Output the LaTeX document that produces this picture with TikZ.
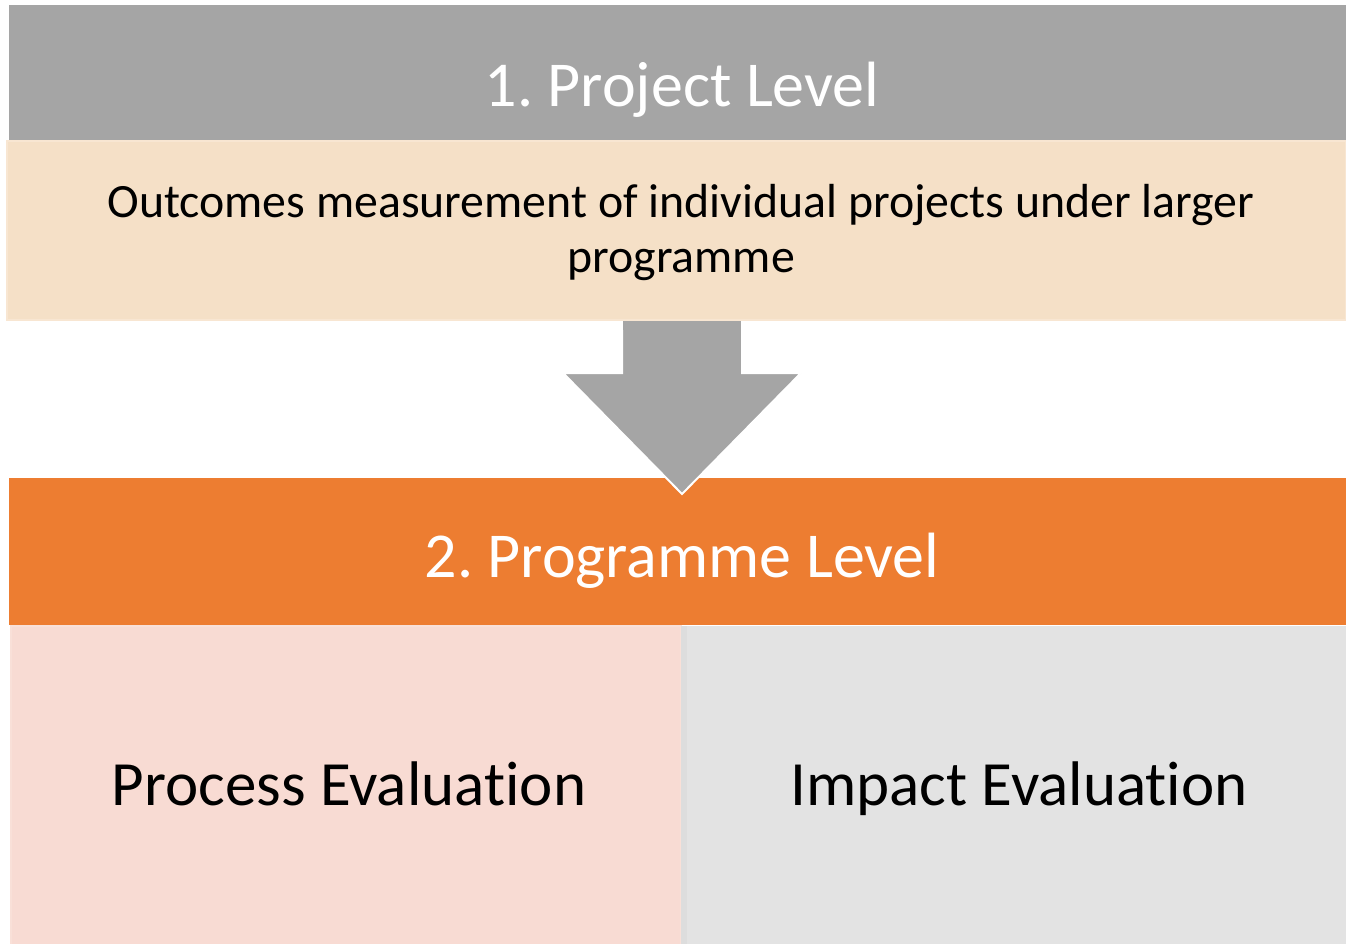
\documentclass[tikz,border=0pt]{standalone}
\usepackage{fontspec}
\setmainfont[Ligatures={NoCommon}]{Carlito}
\frenchspacing
\definecolor{hdgray}{HTML}{A5A5A5}
\definecolor{beige}{HTML}{F5E0C7}
\definecolor{beigeedge}{HTML}{F8E6D2}
\definecolor{orng}{HTML}{ED7D31}
\definecolor{pinkbox}{HTML}{F8DBD3}
\definecolor{pinkedge}{HTML}{F9E0D8}
\definecolor{lgray}{HTML}{E3E3E3}
\definecolor{lgrayedge}{HTML}{DDDDDD}
\tikzset{
  box/.style={rectangle, inner sep=0pt, outer sep=0pt, anchor=north west},
  title/.style={anchor=base, text=white, font=\fontsize{64}{77}\selectfont, inner sep=0pt},
  sub/.style={anchor=base, text=black, font=\fontsize{47.8}{58}\selectfont, inner sep=0pt},
  evaltext/.style={anchor=base, text=black, font=\fontsize{63}{76}\selectfont, inner sep=0pt},
}
\begin{document}
\begin{tikzpicture}[x=1pt,y=-1pt]
\useasboundingbox (0,0) rectangle (1346,944);
\fill[white] (0,0) rectangle (1346,944);
% level 1
\node[box, fill=hdgray, minimum width=1337pt, minimum height=136pt] (lvl1) at (9,5) {};
\node[box, fill=beige, draw=beigeedge, line width=1.5pt, minimum width=1339pt, minimum height=179pt] (desc) at (7,141) {};
\node[title] (t1) at (682,107) {1. Project Level};
\node[sub] (s1) at (681,218) {Outcomes measurement of individual projects under larger};
\node[sub] (s2) at (681,272) {programme};
% level 2
\node[box, fill=orng, minimum width=1337pt, minimum height=147pt] (lvl2) at (9,478) {};
\node[title] (t2) at (682,577) {2. Programme Level};
\node[box, fill=pinkbox, draw=pinkedge, line width=1.5pt, minimum width=670pt, minimum height=320pt] (proc) at (11,626) {};
\node[box, fill=lgray, minimum width=665pt, minimum height=320pt] (imp) at (681,626) {};
\fill[lgrayedge] (681,626) rectangle (687,944);
\node[evaltext] (pe) at (349,805) {Process Evaluation};
\node[evaltext] (ie) at (1019,805) {Impact Evaluation};
% arrow
\coordinate (tip) at (682,494);
\fill[hdgray, draw=white, line width=2pt, line join=miter]
  (622,323) -- (742,323) -- (742,373) -- (801,373) -- (tip) -- (563,373) -- (622,373) -- cycle;
\fill[hdgray] (623,321) rectangle (741,330);
\end{tikzpicture}
\end{document}
